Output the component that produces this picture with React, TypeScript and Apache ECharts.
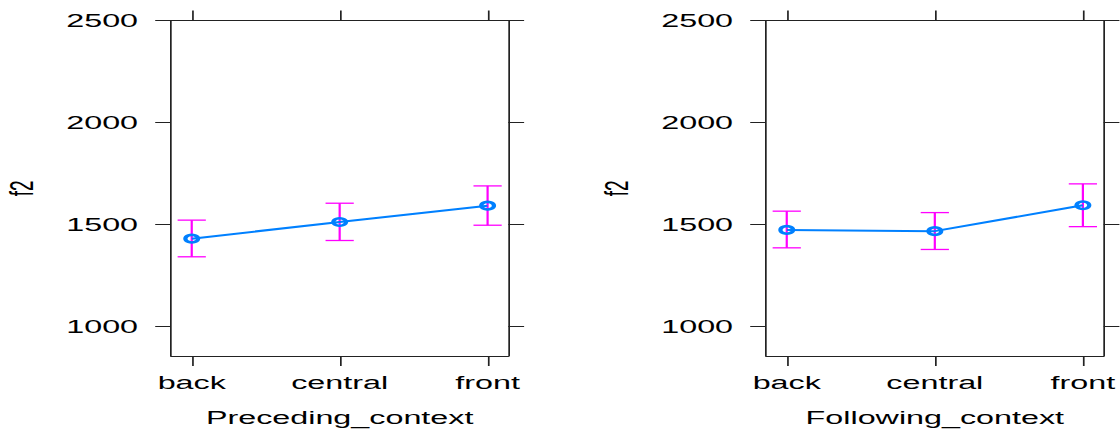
import React, { useEffect, useRef } from "react";
import * as echarts from "echarts";

// ---- data ----
const categories = ["back", "central", "front"];
const precedingFit = [1429, 1511, 1591];
const precedingLower = [1340, 1420, 1495];
const precedingUpper = [1520, 1603, 1688];
const followingFit = [1472, 1466, 1593];
const followingLower = [1384, 1376, 1488];
const followingUpper = [1564, 1557, 1698];
const yTicks = [1000, 1500, 2000, 2500];
const catTicks = [0, 1, 2];
const panelNames = ["Preceding_context", "Following_context"];
const yName = "f2";

// the reference image is horizontally stretched; reproduce with a CSS scaleX
const S = 1.7;
const W = 1120 / S;
const H = 432;

const FONT = "'Liberation Sans', Arial, Helvetica, sans-serif";
const AXIS_COLOR = "#222";
const LINE_COLOR = "#0080ff";
const BAR_COLOR = "#ff00ff";

export default function App() {
  const ref = useRef<HTMLDivElement>(null);

  useEffect(() => {
    if (!ref.current) return;
    const chart = echarts.init(ref.current, undefined, { renderer: "svg" });

    const gridTop = 20.5;
    const gridH = 335.5;
    const grids = [
      { left: 100.6, top: gridTop, width: 198.4, height: gridH },
      { left: 450.6, top: gridTop, width: 198.6, height: gridH },
    ];

    const lineStyle = { color: AXIS_COLOR, width: 1 };
    const textBase = { fontSize: 19, fontFamily: FONT, color: "#000" };

    const xAxes: any[] = [];
    const yAxes: any[] = [];
    grids.forEach((_, gi) => {
      xAxes.push({
        type: "value",
        gridIndex: gi,
        position: "bottom",
        min: -0.14,
        max: 2.14,
        splitLine: { show: false },
        axisLine: { show: true, onZero: false, lineStyle },
        axisTick: { show: true, customValues: catTicks, length: 10, lineStyle },
        axisLabel: {
          show: true,
          customValues: catTicks,
          formatter: (v: number) => categories[Math.round(v)] ?? "",
          margin: 17,
          ...textBase,
        },
        name: panelNames[gi],
        nameLocation: "middle",
        nameGap: 52,
        nameTextStyle: { ...textBase },
      });
      xAxes.push({
        type: "value",
        gridIndex: gi,
        position: "top",
        min: -0.14,
        max: 2.14,
        splitLine: { show: false },
        axisLine: { show: true, onZero: false, lineStyle },
        axisTick: { show: true, customValues: catTicks, length: 10, lineStyle },
        axisLabel: { show: false },
      });
      yAxes.push({
        type: "value",
        gridIndex: gi,
        position: "left",
        min: 853,
        max: 2500,
        splitLine: { show: false },
        axisLine: { show: true, onZero: false, lineStyle },
        axisTick: { show: true, customValues: yTicks, length: 9.3, lineStyle },
        axisLabel: {
          show: true,
          customValues: yTicks,
          formatter: (v: number) => String(v),
          margin: 19.4,
          ...textBase,
        },
        name: yName,
        nameLocation: "middle",
        nameGap: 78,
        nameRotate: 90,
        nameTextStyle: { ...textBase },
      });
      yAxes.push({
        type: "value",
        gridIndex: gi,
        position: "right",
        min: 853,
        max: 2500,
        splitLine: { show: false },
        axisLine: { show: true, onZero: false, lineStyle },
        axisTick: { show: true, customValues: yTicks, length: 9.3, lineStyle },
        axisLabel: { show: false },
      });
    });

    const panels = [
      { fit: precedingFit, lower: precedingLower, upper: precedingUpper },
      { fit: followingFit, lower: followingLower, upper: followingUpper },
    ];

    const series: any[] = [];
    panels.forEach((p, gi) => {
      series.push({
        type: "custom",
        xAxisIndex: gi * 2,
        yAxisIndex: gi * 2,
        z: 2,
        data: p.fit.map((_, i) => [i, p.lower[i], p.upper[i]]),
        renderItem: (params: any, api: any) => {
          const x = api.value(0);
          const lo = api.coord([x, api.value(1)]);
          const hi = api.coord([x, api.value(2)]);
          const w = 8.3;
          const st = { stroke: BAR_COLOR, lineWidth: 1.3 };
          return {
            type: "group",
            children: [
              { type: "line", shape: { x1: lo[0], y1: lo[1], x2: hi[0], y2: hi[1] }, style: st },
              { type: "line", shape: { x1: lo[0] - w, y1: lo[1], x2: lo[0] + w, y2: lo[1] }, style: st },
              { type: "line", shape: { x1: hi[0] - w, y1: hi[1], x2: hi[0] + w, y2: hi[1] }, style: st },
            ],
          };
        },
      });
      series.push({
        type: "line",
        xAxisIndex: gi * 2,
        yAxisIndex: gi * 2,
        z: 3,
        data: p.fit.map((v, i) => [i, v]),
        lineStyle: { color: LINE_COLOR, width: 2 },
        symbol: "circle",
        symbolSize: 7.5,
        itemStyle: { color: "rgba(0,0,0,0)", borderColor: LINE_COLOR, borderWidth: 2.5 },
      });
    });

    chart.setOption({
      animation: false,
      backgroundColor: "#fff",
      grid: grids,
      xAxis: xAxes,
      yAxis: yAxes,
      series,
    });

    return () => chart.dispose();
  }, []);

  return (
    <div
      style={{
        position: "fixed",
        left: 0,
        top: 0,
        width: 1120,
        height: H,
        overflow: "hidden",
        background: "#fff",
      }}
    >
      <div
        ref={ref}
        style={{
          position: "absolute",
          left: 0,
          top: 0,
          width: W,
          height: H,
          transform: `scaleX(${S})`,
          transformOrigin: "0 0",
        }}
      />
    </div>
  );
}
